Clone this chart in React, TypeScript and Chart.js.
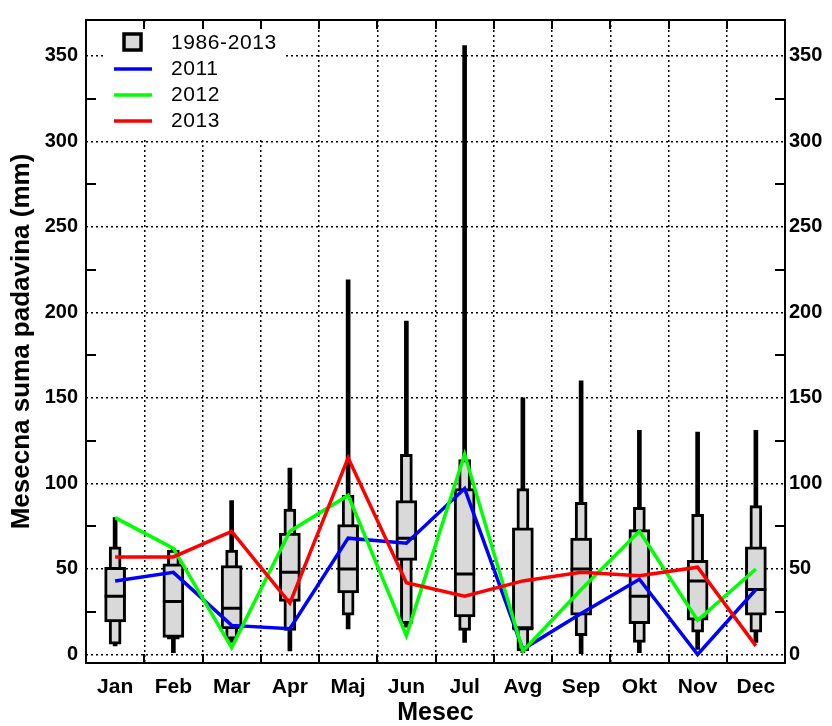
import React, { useEffect, useRef } from 'react';
import { Chart, registerables } from 'chart.js';

Chart.register(...registerables);

const FONT = "'Liberation Sans', Arial, Helvetica, sans-serif";

const months = ['Jan', 'Feb', 'Mar', 'Apr', 'Maj', 'Jun', 'Jul', 'Avg', 'Sep', 'Okt', 'Nov', 'Dec'];

// 1986-2013 climatology (mm)
const climMin = [5, 1, 7, 2, 15, 16, 7, 1, 0, 1, 3, 7];
const climP10 = [6, 9, 9, 14, 23, 18, 14, 2, 11, 7, 13, 13];
const climP25 = [19, 10, 15, 31, 36, 55, 22, 15, 23, 18, 20, 23];
const climMedian = [34, 31, 27, 48, 50, 68, 47, 15, 50, 34, 43, 38];
const climP75 = [51, 53, 52, 71, 76, 90, 97, 74, 68, 73, 55, 63];
const climP90 = [63, 61, 61, 85, 93, 117, 114, 97, 89, 86, 82, 87];
const climMax = [80, 62, 90, 109, 219, 195, 356, 150, 160, 131, 130, 131];

const y2011 = [43, 48, 17, 15, 68, 65, 97, 3, 24, 44, 0, 38];
const y2012 = [80, 62, 4, 72, 93, 11, 117, 2, 38, 72, 20, 50];
const y2013 = [57, 57, 72, 30, 115, 42, 34, 43, 48, 46, 51, 5];

const yTickValues = [0, 25, 50, 75, 100, 125, 150, 175, 200, 225, 250, 275, 300, 325, 350];
const yLabelStep = 50;
const yMin = -5;
const yMax = 371;

const climLabel = '1986-2013';
const seriesLabels = ['2011', '2012', '2013'];
const seriesColors = ['#0000ff', '#00ff00', '#ff0000'];
const boxFill = '#d9d9d9';

export default function App() {
  const ref = useRef<HTMLCanvasElement>(null);

  useEffect(() => {
    document.body.style.margin = '0';
    const canvas = ref.current;
    if (!canvas) return;

    const framePlugin = {
      id: 'frameAndLegend',
      afterDraw(chart: any) {
        const { ctx, chartArea: a, scales } = chart;
        const xs = scales.x;
        const ys = scales.y;
        ctx.save();
        ctx.setLineDash([]);

        // legend background
        ctx.fillStyle = '#ffffff';
        ctx.fillRect(104, 23, 182, 115);

        // inner minor ticks on left/right
        ctx.strokeStyle = '#000';
        ctx.lineWidth = 2;
        for (const v of yTickValues) {
          if (v % yLabelStep === 0) continue;
          const py = Math.round(ys.getPixelForValue(v));
          ctx.beginPath();
          ctx.moveTo(a.left, py);
          ctx.lineTo(a.left + 10, py);
          ctx.moveTo(a.right, py);
          ctx.lineTo(a.right - 10, py);
          ctx.stroke();
        }
        // inner ticks on top/bottom at month boundaries
        for (let i = 0; i < months.length - 1; i++) {
          const px = Math.round((xs.getPixelForValue(i) + xs.getPixelForValue(i + 1)) / 2);
          ctx.beginPath();
          ctx.moveTo(px, a.top);
          ctx.lineTo(px, a.top + 9);
          ctx.moveTo(px, a.bottom);
          ctx.lineTo(px, a.bottom - 9);
          ctx.stroke();
        }

        // frame
        ctx.lineWidth = 2;
        ctx.strokeRect(a.left, a.top, a.right - a.left, a.bottom - a.top);

        // legend
        ctx.font = `21px ${FONT}`;
        ctx.fillStyle = '#000';
        ctx.textBaseline = 'middle';
        ctx.textAlign = 'left';
        try { (ctx as any).letterSpacing = '0.6px'; } catch (e) {}
        ctx.fillStyle = boxFill;
        ctx.fillRect(124, 34, 17, 16);
        ctx.strokeStyle = '#000';
        ctx.lineWidth = 3.5;
        ctx.strokeRect(124, 34, 17, 16);
        ctx.fillStyle = '#000';
        ctx.fillText(climLabel, 171, 43);
        const rows = [69, 95, 121];
        seriesLabels.forEach((lab, i) => {
          ctx.strokeStyle = seriesColors[i];
          ctx.lineWidth = 3.5;
          ctx.beginPath();
          ctx.moveTo(114, rows[i]);
          ctx.lineTo(152, rows[i]);
          ctx.stroke();
          ctx.fillStyle = '#000';
          ctx.fillText(lab, 171, rows[i] + 0.5);
        });
        ctx.restore();
      },
    };

    const tickFont = { family: FONT, size: 20, weight: 'bold' as const };

    const lineDs = (i: number, data: number[], order: number) => ({
      type: 'line',
      label: seriesLabels[i],
      data,
      borderColor: seriesColors[i],
      borderWidth: 3.5,
      pointRadius: 0,
      tension: 0,
      order,
    });

    const chart = new Chart(canvas, {
      type: 'bar',
      data: {
        labels: months,
        datasets: [
          lineDs(0, y2011, 2) as any,
          lineDs(1, y2012, 1) as any,
          lineDs(2, y2013, 0) as any,
          {
            type: 'line',
            label: climLabel + ' median',
            data: climMedian,
            showLine: false,
            pointStyle: 'line',
            pointRadius: 10.5,
            pointBorderWidth: 3,
            pointBorderColor: '#000',
            pointBackgroundColor: '#000',
            order: 5,
          } as any,
          {
            type: 'bar',
            label: climLabel + ' 25-75',
            data: months.map((_, i) => [climP25[i], climP75[i]]),
            backgroundColor: boxFill,
            borderColor: '#000',
            borderWidth: 3,
            borderSkipped: false,
            barThickness: 21,
            grouped: false,
            order: 6,
          } as any,
          {
            type: 'bar',
            label: climLabel + ' 10-90',
            data: months.map((_, i) => [climP10[i], climP90[i]]),
            backgroundColor: boxFill,
            borderColor: '#000',
            borderWidth: 3,
            borderSkipped: false,
            barThickness: 12,
            grouped: false,
            order: 7,
          } as any,
          {
            type: 'bar',
            label: climLabel + ' min-max',
            data: months.map((_, i) => [climMin[i], climMax[i]]),
            backgroundColor: '#000',
            borderWidth: 0,
            barThickness: 4,
            grouped: false,
            order: 8,
          } as any,
        ],
      },
      options: {
        responsive: false,
        animation: false,
        devicePixelRatio: 1,
        layout: { padding: { top: 12, left: 0, right: 0, bottom: 0 } },
        plugins: {
          legend: { display: false },
          tooltip: { enabled: false },
        },
        scales: {
          x: {
            type: 'category',
            offset: true,
            grid: { offset: true, color: '#000', lineWidth: 1.5, drawTicks: false },
            border: { display: false, dash: [2, 3] },
            ticks: {
              color: '#000',
              font: { family: FONT, size: 21, weight: 'bold' },
              padding: 12,
              maxRotation: 0,
              autoSkip: false,
            },
            title: {
              display: true,
              text: 'Mesec',
              color: '#000',
              font: { family: FONT, size: 25, weight: 'bold', lineHeight: 1 },
              padding: { top: 0, bottom: 0 },
            },
            afterFit: (s: any) => { s.height = 63; },
          },
          y: {
            type: 'linear',
            position: 'left',
            min: yMin,
            max: yMax,
            afterBuildTicks: (s: any) => { s.ticks = yTickValues.map((v) => ({ value: v })); },
            grid: {
              color: (c: any) => (c.tick && c.tick.value % yLabelStep === 0 ? '#000' : 'rgba(0,0,0,0)'),
              lineWidth: 1.5,
              drawTicks: false,
            },
            border: { display: false, dash: [2, 3] },
            ticks: {
              color: '#000',
              font: tickFont,
              padding: 8,
              callback: (v: any) => (Number(v) % yLabelStep === 0 ? String(v) : ''),
            },
            title: {
              display: true,
              text: 'Mesecna suma padavina (mm)',
              color: '#000',
              font: { family: FONT, size: 26, weight: 'bold' },
              padding: { top: 6, bottom: 0 },
            },
            afterFit: (s: any) => { s.width = 86; },
          },
          y2: {
            type: 'linear',
            position: 'right',
            min: yMin,
            max: yMax,
            afterBuildTicks: (s: any) => { s.ticks = yTickValues.map((v) => ({ value: v })); },
            grid: { display: false, drawTicks: false },
            border: { display: false },
            ticks: {
              color: '#000',
              font: tickFont,
              padding: 4,
              callback: (v: any) => (Number(v) % yLabelStep === 0 ? String(v) : ''),
            },
            afterFit: (s: any) => { s.width = 47; },
          },
        },
      } as any,
      plugins: [framePlugin],
    });

    return () => chart.destroy();
  }, []);

  return (
    <canvas
      ref={ref}
      width={832}
      height={726}
      style={{ display: 'block', width: '832px', height: '726px' }}
    />
  );
}
